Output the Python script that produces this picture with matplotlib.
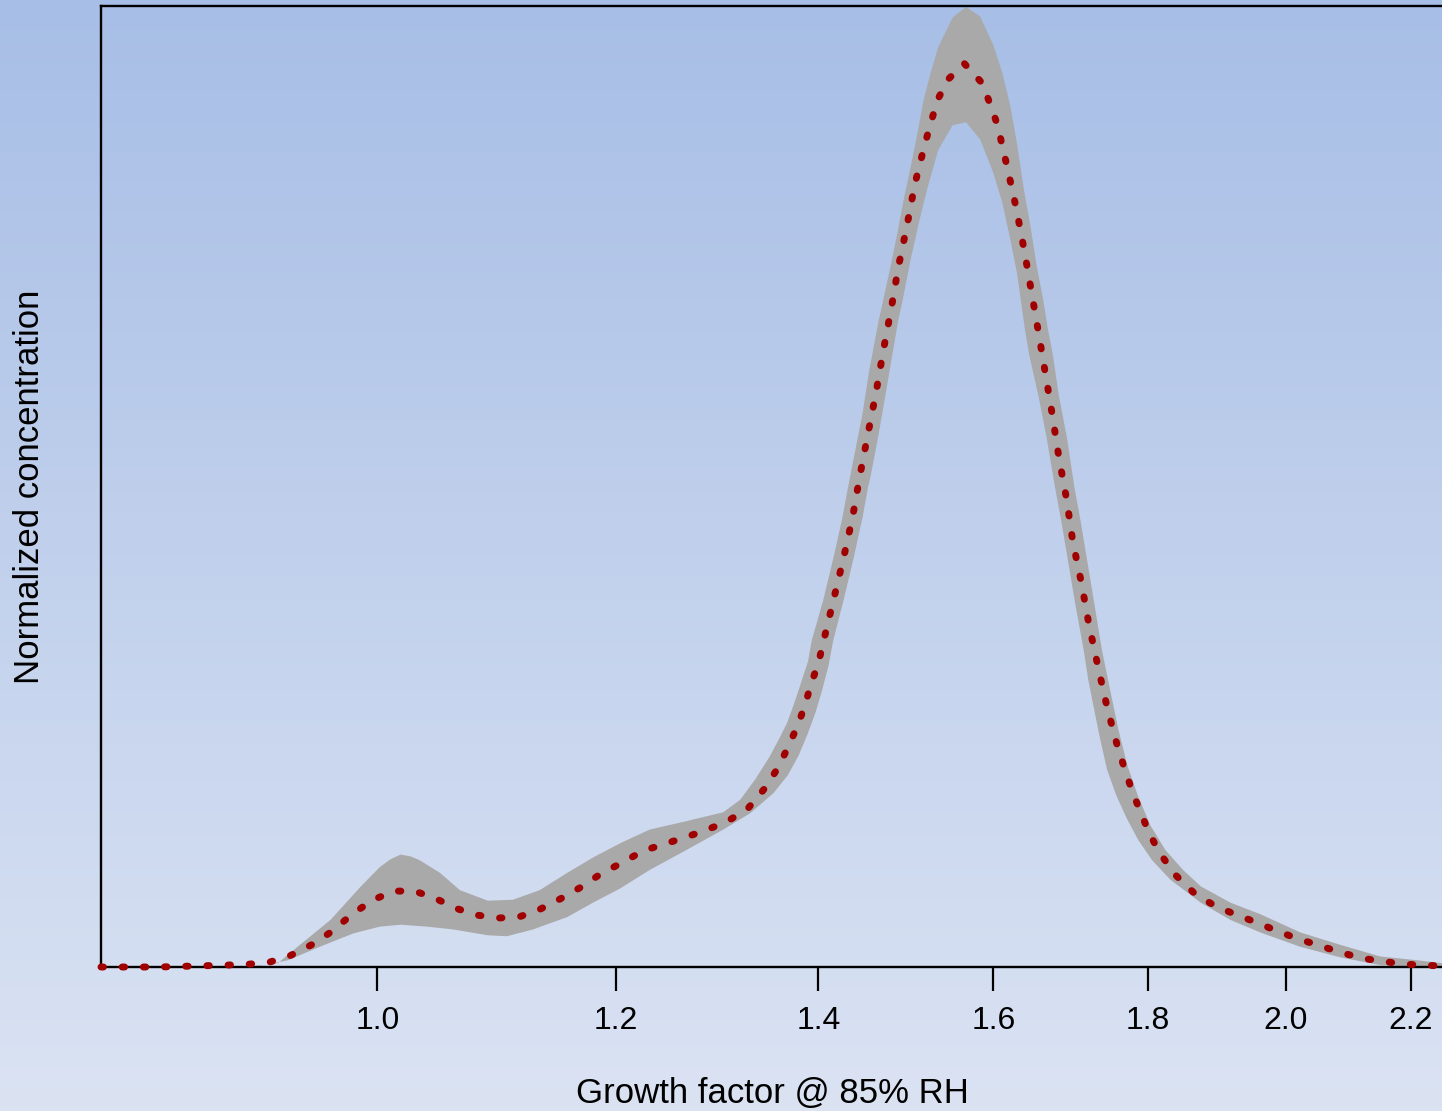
import numpy as np
import matplotlib.pyplot as plt
from matplotlib.colors import LinearSegmentedColormap
from matplotlib.ticker import NullLocator

plt.rcParams['font.family'] = ['Liberation Sans', 'DejaVu Sans']

# mean distribution (growth factor, normalized concentration)
mean_gf = [0.810, 0.847, 0.892, 0.907, 0.921, 0.936, 0.951, 0.966, 0.981, 0.997,
           1.013, 1.029, 1.046, 1.062, 1.079, 1.097, 1.114, 1.132, 1.150, 1.168,
           1.186, 1.206, 1.225, 1.245, 1.265, 1.284, 1.305, 1.326, 1.344, 1.358,
           1.368, 1.378, 1.386, 1.392, 1.400, 1.405, 1.416, 1.427, 1.437, 1.445,
           1.454, 1.463, 1.471, 1.480, 1.488, 1.498, 1.507, 1.519, 1.533, 1.546,
           1.565, 1.586, 1.596, 1.605, 1.617, 1.628, 1.638, 1.647, 1.656, 1.665,
           1.674, 1.682, 1.692, 1.700, 1.711, 1.721, 1.733, 1.745, 1.760, 1.779,
           1.802, 1.817, 1.838, 1.866, 1.896, 1.927, 1.957, 1.988, 2.020, 2.053,
           2.086, 2.120, 2.152, 2.187, 2.221, 2.253, 2.300]
mean_conc = [0.000, 0.000, 0.002, 0.003, 0.005, 0.012, 0.023, 0.037, 0.055, 0.070,
             0.079, 0.079, 0.071, 0.061, 0.054, 0.051, 0.052, 0.060, 0.071, 0.083,
             0.097, 0.109, 0.121, 0.128, 0.135, 0.142, 0.151, 0.164, 0.186, 0.208,
             0.229, 0.251, 0.273, 0.294, 0.316, 0.337, 0.381, 0.425, 0.468, 0.511,
             0.555, 0.598, 0.641, 0.685, 0.728, 0.772, 0.815, 0.858, 0.902, 0.924,
             0.940, 0.920, 0.898, 0.876, 0.832, 0.790, 0.746, 0.703, 0.660, 0.616,
             0.572, 0.530, 0.486, 0.442, 0.400, 0.356, 0.312, 0.270, 0.226, 0.182,
             0.139, 0.118, 0.096, 0.076, 0.063, 0.054, 0.046, 0.037, 0.029, 0.022,
             0.015, 0.009, 0.006, 0.003, 0.002, 0.001, 0.000]

# upper edge of the uncertainty band
upper_gf = [0.894, 0.910, 0.927, 0.941, 0.965, 0.987, 1.002, 1.010, 1.018, 1.026,
            1.033, 1.049, 1.065, 1.088, 1.109, 1.132, 1.156, 1.179, 1.204, 1.231,
            1.263, 1.302, 1.319, 1.334, 1.349, 1.359, 1.367, 1.375, 1.382, 1.389,
            1.393, 1.405, 1.416, 1.426, 1.432, 1.439, 1.448, 1.455, 1.466, 1.471,
            1.479, 1.487, 1.494, 1.502, 1.510, 1.517, 1.525, 1.534, 1.551, 1.567,
            1.584, 1.600, 1.611, 1.621, 1.629, 1.637, 1.646, 1.654, 1.662, 1.668,
            1.674, 1.682, 1.692, 1.702, 1.710, 1.719, 1.728, 1.738, 1.749, 1.760,
            1.772, 1.786, 1.803, 1.824, 1.849, 1.874, 1.917, 1.961, 2.022, 2.085,
            2.149, 2.211, 2.253, 2.300]
upper_conc = [0.000, 0.001, 0.004, 0.021, 0.049, 0.083, 0.104, 0.112, 0.117, 0.115,
              0.111, 0.098, 0.080, 0.069, 0.070, 0.080, 0.098, 0.114, 0.129, 0.143,
              0.151, 0.161, 0.174, 0.195, 0.219, 0.238, 0.254, 0.276, 0.297, 0.318,
              0.340, 0.381, 0.425, 0.468, 0.499, 0.533, 0.576, 0.619, 0.673, 0.694,
              0.728, 0.764, 0.798, 0.832, 0.868, 0.902, 0.930, 0.957, 0.988, 0.999,
              0.989, 0.959, 0.930, 0.895, 0.857, 0.812, 0.770, 0.728, 0.694, 0.663,
              0.638, 0.594, 0.552, 0.499, 0.464, 0.421, 0.378, 0.330, 0.288, 0.247,
              0.210, 0.179, 0.148, 0.122, 0.101, 0.084, 0.067, 0.055, 0.036, 0.023,
              0.011, 0.007, 0.004, 0.000]

# lower edge of the uncertainty band
lower_gf = [0.894, 0.910, 0.934, 0.957, 0.982, 1.002, 1.018, 1.039, 1.060, 1.088,
            1.104, 1.126, 1.156, 1.179, 1.204, 1.231, 1.263, 1.302, 1.329, 1.353,
            1.368, 1.379, 1.388, 1.397, 1.404, 1.411, 1.416, 1.427, 1.438, 1.448,
            1.454, 1.457, 1.466, 1.474, 1.482, 1.488, 1.493, 1.502, 1.513, 1.521,
            1.534, 1.551, 1.567, 1.584, 1.600, 1.611, 1.621, 1.629, 1.639, 1.644,
            1.656, 1.666, 1.677, 1.685, 1.694, 1.703, 1.714, 1.720, 1.728, 1.736,
            1.745, 1.757, 1.771, 1.787, 1.806, 1.831, 1.874, 1.917, 1.961, 2.022,
            2.085, 2.149, 2.211, 2.253, 2.300]
lower_conc = [0.000, 0.000, 0.007, 0.021, 0.035, 0.042, 0.044, 0.042, 0.039, 0.033,
              0.032, 0.039, 0.052, 0.067, 0.082, 0.101, 0.120, 0.143, 0.160, 0.181,
              0.200, 0.220, 0.241, 0.265, 0.288, 0.314, 0.340, 0.381, 0.425, 0.468,
              0.499, 0.511, 0.555, 0.598, 0.641, 0.673, 0.694, 0.736, 0.780, 0.809,
              0.850, 0.876, 0.879, 0.861, 0.826, 0.795, 0.756, 0.722, 0.663, 0.638,
              0.594, 0.552, 0.499, 0.464, 0.421, 0.378, 0.330, 0.299, 0.267, 0.236,
              0.205, 0.179, 0.155, 0.132, 0.111, 0.091, 0.067, 0.049, 0.036, 0.021,
              0.010, 0.002, 0.000, 0.000, 0.000]

xticks = [1.0, 1.2, 1.4, 1.6, 1.8, 2.0, 2.2]
xticklabels = ['1.0', '1.2', '1.4', '1.6', '1.8', '2.0', '2.2']

W, H = 1442, 1111
fig = plt.figure(figsize=(W / 100, H / 100), dpi=100)

# background gradient over the whole figure
bg = fig.add_axes([0, 0, 1, 1], zorder=-10)
cmap = LinearSegmentedColormap.from_list('bg', ['#a7bee6', '#dbe3f3'])
bg.imshow(np.linspace(0, 1, 256).reshape(-1, 1), aspect='auto', cmap=cmap,
          extent=[0, 1, 0, 1])
bg.axis('off')

xmin, xmax = 0.810, 2.30
ax_w = np.log(xmax / xmin) * 1311
ax = fig.add_axes([101 / W, (H - 967) / H, ax_w / W, 961 / H])
ax.set_facecolor('none')
ax.set_xscale('log')
ax.set_xlim(xmin, xmax)
ax.set_ylim(0, 1.0)

band_x = np.concatenate([upper_gf, lower_gf[::-1]])
band_y = np.concatenate([upper_conc, lower_conc[::-1]])
ax.fill(band_x, band_y, color='#a9a9a9', lw=0, zorder=2)

ax.plot(mean_gf, mean_conc, color='#a00000', lw=5.0,
        linestyle=(0, (0.35, 2.7)), dash_capstyle='round', zorder=3,
        clip_on=False)

ax.xaxis.set_minor_locator(NullLocator())
ax.set_xticks(xticks)
ax.set_xticklabels(xticklabels)
ax.set_yticks([])
ax.tick_params(axis='x', length=17, width=1.6, pad=11, labelsize=23,
               direction='out')
for s in ['left', 'top', 'bottom']:
    ax.spines[s].set_linewidth(1.7)
ax.spines['right'].set_visible(False)

ax.set_xlabel('Growth factor @ 85% RH', fontsize=25)
ax.xaxis.set_label_coords((772 - 101) / ax_w, (967 - 1077) / 961)
ax.set_ylabel('Normalized concentration', fontsize=25)
ax.yaxis.set_label_coords((46 - 101) / ax_w, 0.5)

fig.savefig('out.png', dpi=100)
